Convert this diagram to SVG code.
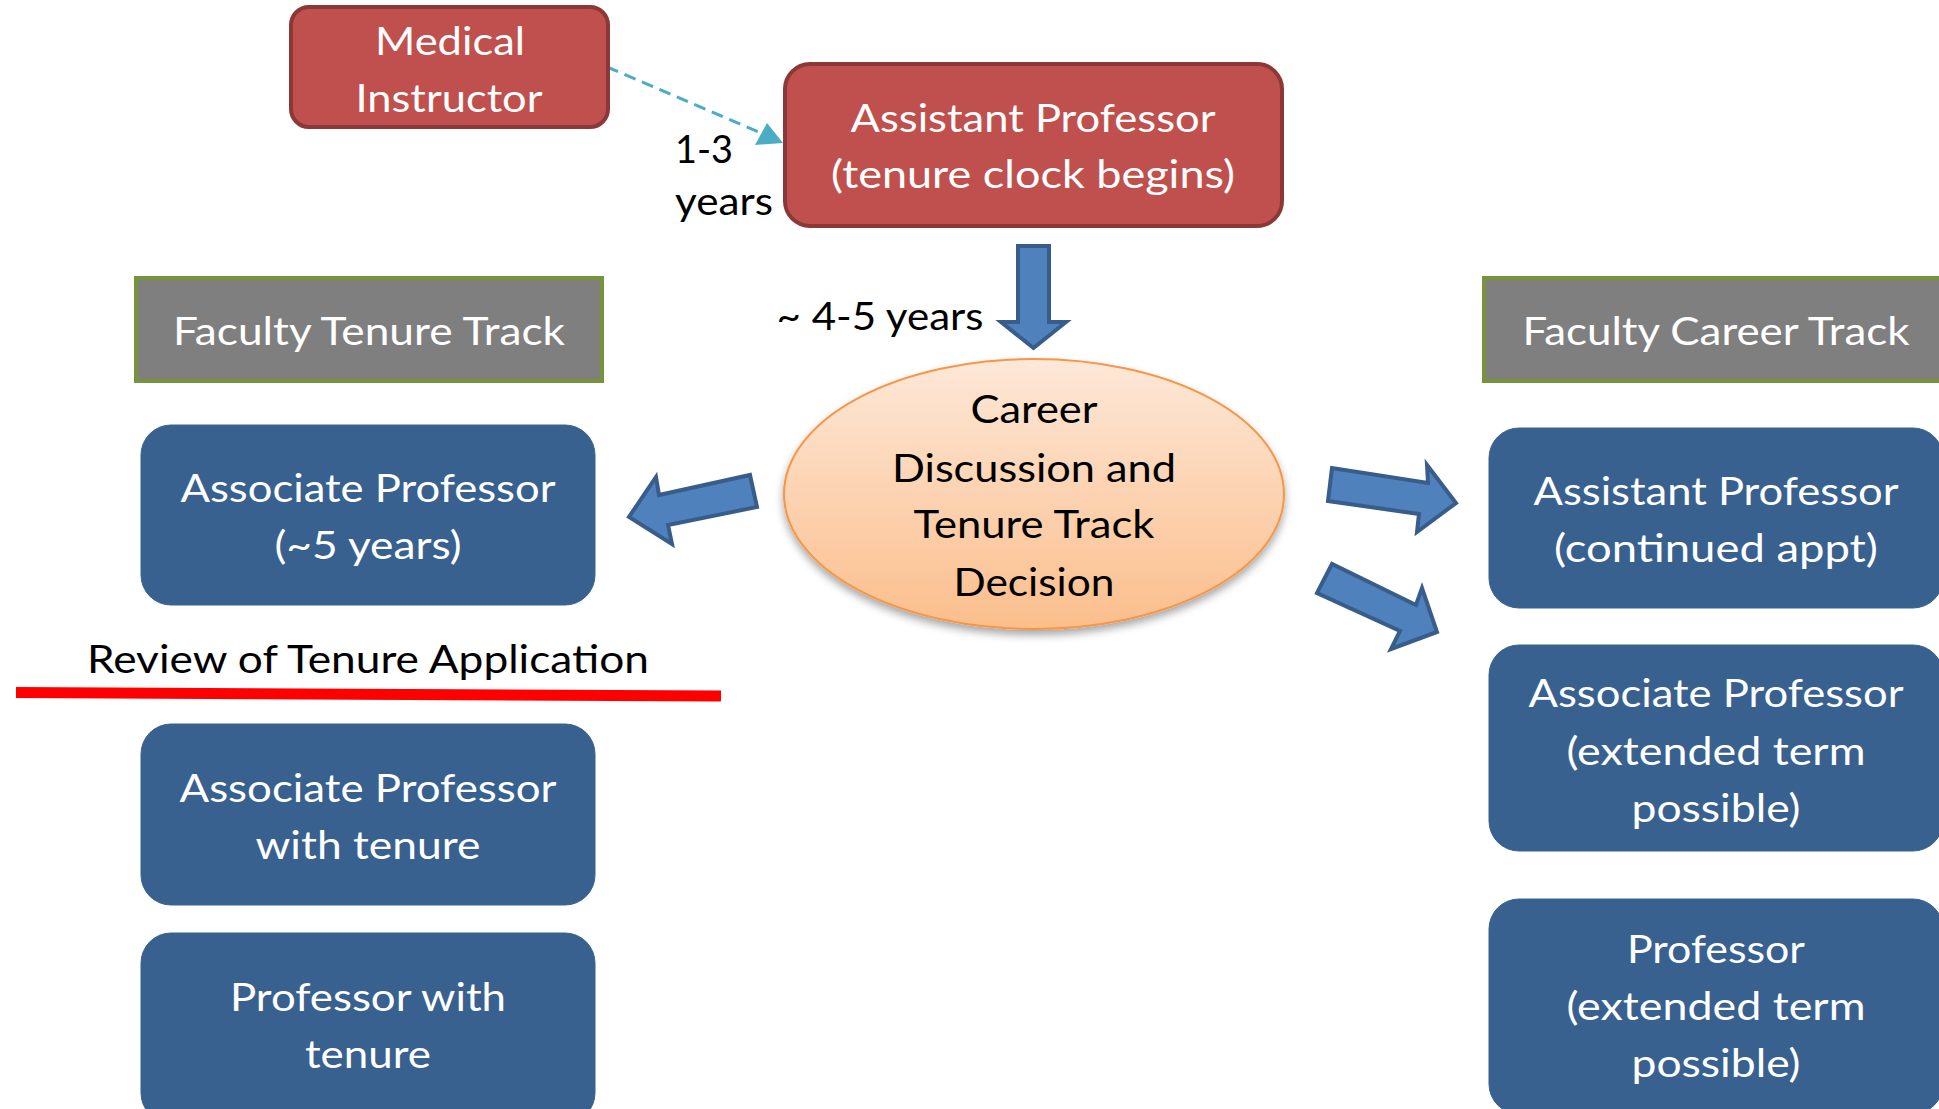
<svg xmlns="http://www.w3.org/2000/svg" width="1939" height="1109" viewBox="0 0 1939 1109">
<style>
  text { font-family: Lato, "Open Sans", "Liberation Sans", sans-serif; font-size: 39px; text-anchor: middle; }
  .w { fill: #ffffff; }
  .k { fill: #000000; }
  .red { fill: #C0504D; stroke: #8C3836; stroke-width: 4; }
  .gray { fill: #7F7F7F; stroke: #77933C; stroke-width: 4; }
  .blue { fill: #38618F; stroke: #3A6392; stroke-width: 1; }
  .barrow { fill: #4F81BD; stroke: #385D8A; stroke-width: 4; stroke-linejoin: miter; }
</style>
<defs>
  <linearGradient id="ellGrad" x1="0" y1="0" x2="0" y2="1">
    <stop offset="0" stop-color="#FDE8D8"/>
    <stop offset="1" stop-color="#FBBE8C"/>
  </linearGradient>
  <filter id="shadow" x="-10%" y="-10%" width="120%" height="130%">
    <feDropShadow dx="0" dy="5" stdDeviation="4" flood-color="#000000" flood-opacity="0.35"/>
  </filter>
</defs>
<rect width="1939" height="1109" fill="#ffffff"/>

<g id="connectors">
  <line x1="607" y1="67" x2="768" y2="136" stroke="#4BACC6" stroke-width="3" stroke-dasharray="12,7"/>
  <polygon points="783,143 755,145 767,123" fill="#4BACC6"/>
  <polygon class="barrow" points="1018,246 1049,246 1049,322 1066,322 1033.5,348 1001,322 1018,322"/>
  <polygon class="barrow" points="750,475 757,507 668,525 672,544 629,517 656,477 659,495"/>
  <polygon class="barrow" points="1332,468 1328,501 1419,514 1417,532 1456,503 1427,465 1428,483"/>
  <polygon class="barrow" points="1332,564 1317,593 1400,631 1391,649 1437,632 1422,588 1416,605"/>
  <line x1="16" y1="692.5" x2="721" y2="696" stroke="#FF0000" stroke-width="11"/>
</g>

<g id="medical-instructor">
  <rect class="red" x="291" y="7" width="317" height="120" rx="18"/>
  <text class="w" x="450" y="55" textLength="150" lengthAdjust="spacingAndGlyphs">Medical</text>
  <text class="w" x="449" y="112" textLength="187" lengthAdjust="spacingAndGlyphs">Instructor</text>
</g>

<g id="label-1-3">
  <text class="k" x="675" y="163" style="text-anchor:start" textLength="58" lengthAdjust="spacingAndGlyphs">1-3</text>
  <text class="k" x="675" y="215" style="text-anchor:start" textLength="98" lengthAdjust="spacingAndGlyphs">years</text>
</g>

<g id="assistant-professor-tenure">
  <rect class="red" x="785" y="64" width="497" height="162" rx="25"/>
  <text class="w" x="1033" y="132" textLength="365" lengthAdjust="spacingAndGlyphs">Assistant Professor</text>
  <text class="w" x="1033" y="188" textLength="404" lengthAdjust="spacingAndGlyphs">(tenure clock begins)</text>
</g>

<g id="label-4-5">
  <text class="k" x="880" y="330" textLength="207" lengthAdjust="spacingAndGlyphs">~ 4-5 years</text>
</g>

<g id="faculty-tenure-track">
  <rect class="gray" x="136" y="278" width="466" height="103"/>
  <text class="w" x="369" y="345" textLength="392" lengthAdjust="spacingAndGlyphs">Faculty Tenure Track</text>
</g>

<g id="faculty-career-track">
  <rect class="gray" x="1484" y="278" width="466" height="103"/>
  <text class="w" x="1716" y="345" textLength="387" lengthAdjust="spacingAndGlyphs">Faculty Career Track</text>
</g>

<g id="career-decision">
  <ellipse cx="1034" cy="494" rx="250" ry="135" fill="url(#ellGrad)" stroke="#F79646" stroke-width="2" filter="url(#shadow)"/>
  <text class="k" x="1034" y="423" textLength="127" lengthAdjust="spacingAndGlyphs">Career</text>
  <text class="k" x="1034" y="482" textLength="284" lengthAdjust="spacingAndGlyphs">Discussion and</text>
  <text class="k" x="1034" y="538" textLength="241" lengthAdjust="spacingAndGlyphs">Tenure Track</text>
  <text class="k" x="1034" y="596" textLength="161" lengthAdjust="spacingAndGlyphs">Decision</text>
</g>

<g id="associate-professor-5">
  <rect class="blue" x="141" y="425" width="454" height="180" rx="30"/>
  <text class="w" x="368" y="502" textLength="375" lengthAdjust="spacingAndGlyphs">Associate Professor</text>
  <text class="w" x="368" y="559" textLength="187" lengthAdjust="spacingAndGlyphs">(~5 years)</text>
</g>

<g id="review-label">
  <text class="k" x="368" y="673" textLength="562" lengthAdjust="spacingAndGlyphs">Review of Tenure Application</text>
</g>

<g id="associate-professor-tenure">
  <rect class="blue" x="141" y="724" width="454" height="181" rx="30"/>
  <text class="w" x="368" y="802" textLength="377" lengthAdjust="spacingAndGlyphs">Associate Professor</text>
  <text class="w" x="368" y="859" textLength="225" lengthAdjust="spacingAndGlyphs">with tenure</text>
</g>

<g id="professor-tenure">
  <rect class="blue" x="141" y="933" width="454" height="190" rx="30"/>
  <text class="w" x="368" y="1011" textLength="276" lengthAdjust="spacingAndGlyphs">Professor with</text>
  <text class="w" x="368" y="1068" textLength="126" lengthAdjust="spacingAndGlyphs">tenure</text>
</g>

<g id="assistant-professor-continued">
  <rect class="blue" x="1489" y="428" width="454" height="180" rx="30"/>
  <text class="w" x="1716" y="505" textLength="365" lengthAdjust="spacingAndGlyphs">Assistant Professor</text>
  <text class="w" x="1716" y="562" textLength="324" lengthAdjust="spacingAndGlyphs">(continued appt)</text>
</g>

<g id="associate-professor-extended">
  <rect class="blue" x="1489" y="645" width="454" height="206" rx="30"/>
  <text class="w" x="1716" y="707" textLength="375" lengthAdjust="spacingAndGlyphs">Associate Professor</text>
  <text class="w" x="1716" y="765" textLength="299" lengthAdjust="spacingAndGlyphs">(extended term</text>
  <text class="w" x="1716" y="822" textLength="169" lengthAdjust="spacingAndGlyphs">possible)</text>
</g>

<g id="professor-extended">
  <rect class="blue" x="1489" y="899" width="454" height="215" rx="30"/>
  <text class="w" x="1716" y="963" textLength="178" lengthAdjust="spacingAndGlyphs">Professor</text>
  <text class="w" x="1716" y="1020" textLength="299" lengthAdjust="spacingAndGlyphs">(extended term</text>
  <text class="w" x="1716" y="1077" textLength="169" lengthAdjust="spacingAndGlyphs">possible)</text>
</g>
</svg>
